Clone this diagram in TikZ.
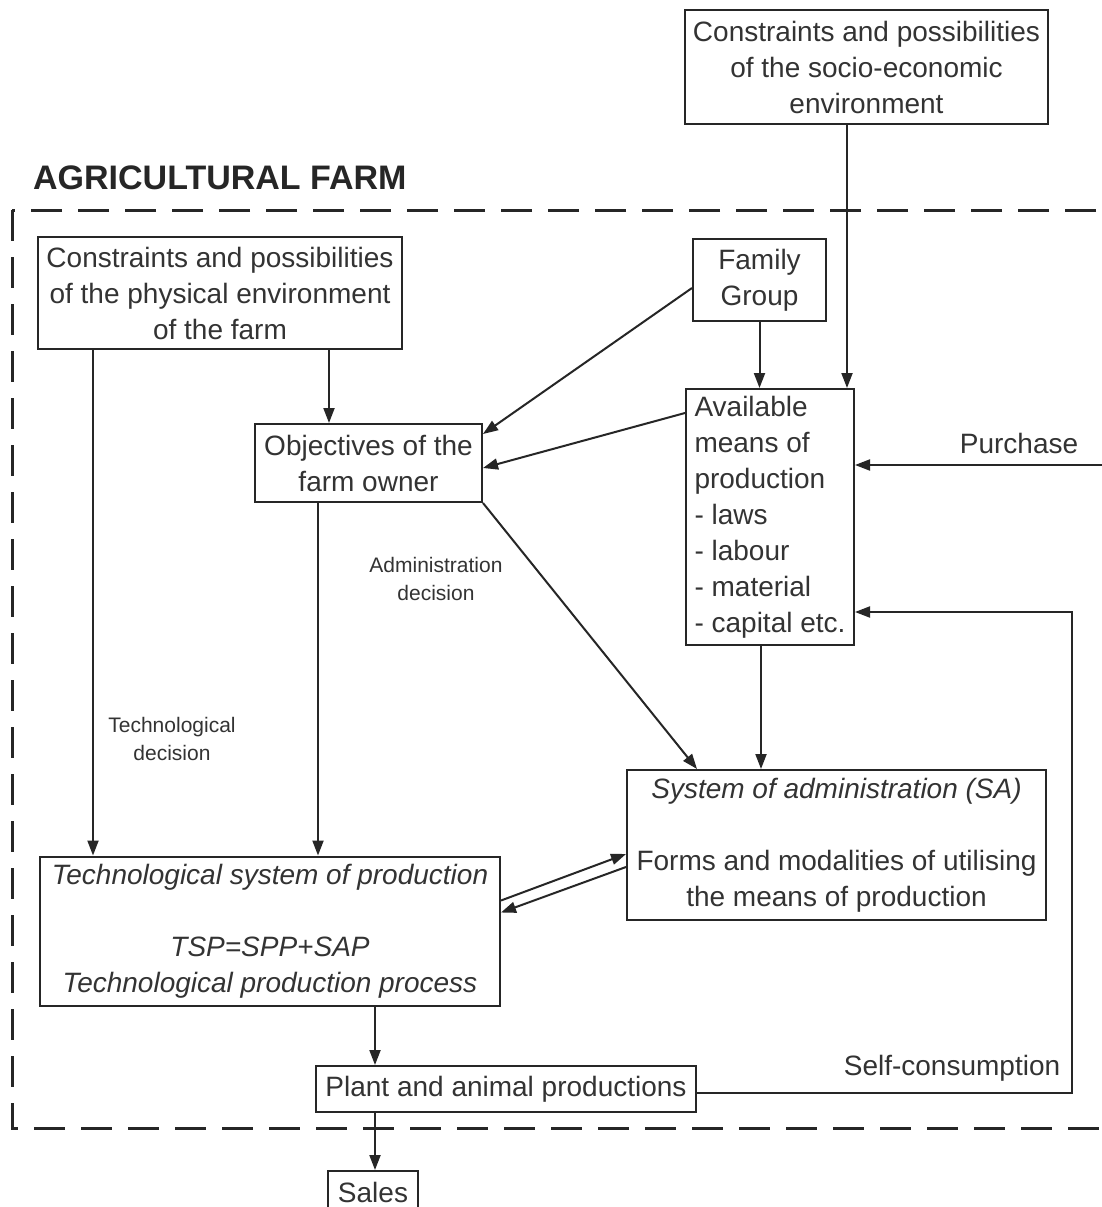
\documentclass[tikz,border=0pt]{standalone}
\usepackage{fontspec}
\setmainfont{Liberation Sans}
\usetikzlibrary{arrows.meta}
\begin{document}
\begin{tikzpicture}[x=1pt,y=-1pt,
  txt/.style={text=black!80,font=\fontsize{28}{36}\selectfont,align=center},
  box/.style={txt,draw=black!85,line width=2pt,inner sep=0pt},
  small/.style={text=black!80,font=\fontsize{21}{28}\selectfont,align=center,inner sep=0pt},
  conn/.style={draw=black!85,line width=2pt},
  arr/.style={conn,-{Triangle[length=15pt,width=11pt]}},
  farm/.style={draw=black!85,line width=3pt,dash pattern=on 31pt off 16pt}]
\useasboundingbox (0,0) rectangle (1102,1207);
\clip (0,0) rectangle (1102,1207);
\fill[white] (0,0) rectangle (1102,1207);

% farm boundary
\draw[farm] (12,210) rectangle (1140,1128);
\node[anchor=west,text=black!85,font=\fontsize{34}{38}\selectfont\bfseries,inner sep=0pt] (title) at (33,178) {AGRICULTURAL FARM};

% boxes
\node[box,minimum width=363pt,minimum height=114pt] (socio) at (866.5,67) {Constraints and possibilities\\of the socio-economic\\environment};
\node[box,minimum width=364pt,minimum height=112pt] (phys) at (220,293) {Constraints and possibilities\\of the physical environment\\of the farm};
\node[box,minimum width=133pt,minimum height=82pt] (fam) at (759.5,280) {Family\\Group};
\node[box,minimum width=227pt,minimum height=78pt] (obj) at (368.5,463) {Objectives of the\\farm owner};
\node[box,align=left,minimum width=168pt,minimum height=256pt] (avail) at (770,517) {Available\\means of\\production\\- laws\\- labour\\- material\\- capital etc.};
\node[box,minimum width=419pt,minimum height=150pt] (sa) at (836.5,845) {\textit{System of administration (SA)}\\[36pt]Forms and modalities of utilising\\the means of production};
\node[box,minimum width=460pt,minimum height=149pt] (tech) at (270,931) {\textit{Technological system of production}\\[36pt]\textit{TSP=SPP+SAP}\\\textit{Technological production process}};
\node[box,minimum width=380pt,minimum height=46pt] (plant) at (506,1089) {Plant and animal productions};
\node[box,minimum width=90pt,minimum height=42pt,anchor=north] (sales) at (373,1170) {Sales};

% labels
\node[txt,inner sep=0pt] (purch) at (1019,443) {Purchase};
\node[txt,inner sep=0pt] (selfc) at (952,1068) {Self-consumption};
\node[small] (admdec) at (436,579) {Administration\\decision};
\node[small] (techdec) at (172,739) {Technological\\decision};

% helper coordinates
\coordinate (xs) at (847,0);
\coordinate (xpl) at (93,0);
\coordinate (xpr) at (329,0);
\coordinate (xob) at (318,0);
\coordinate (xav) at (761,0);
\coordinate (xsa) at (697,0);
\coordinate (xtp) at (375,0);
\coordinate (pin) at (1102,465);
\coordinate (sc1) at (1072,1093);
\coordinate (sc2) at (1072,612);

% connectors
\draw[arr] (socio.south -| xs) -- (avail.north -| xs);
\draw[arr] (fam.south) -- (avail.north -| fam.south);
\draw[arr] (phys.south -| xpl) -- (tech.north -| xpl);
\draw[arr] (phys.south -| xpr) -- (obj.north -| xpr);
\draw[arr] ([yshift=-8pt]fam.west) -- ([yshift=-11pt]obj.north east);
\draw[arr] ([yshift=-25pt]avail.north west) -- ([yshift=-45pt]obj.north east);
\draw[arr] (pin) -- (avail.east |- pin);
\draw[arr] (plant.east |- sc1) -- (sc1) -- (sc2) -- (avail.east |- sc2);
\draw[arr] (obj.south east) -- (sa.north -| xsa);
\draw[arr] (avail.south -| xav) -- (sa.north -| xav);
\draw[arr] (obj.south -| xob) -- (tech.north -| xob);
\draw[arr] ([yshift=-45pt]tech.north east) -- ([yshift=-85pt]sa.north west);
\draw[arr] ([yshift=-98pt]sa.north west) -- ([yshift=-57pt]tech.north east);
\draw[arr] (tech.south -| xtp) -- (plant.north -| xtp);
\draw[arr] (plant.south -| xtp) -- (sales.north -| xtp);
\end{tikzpicture}
\end{document}
